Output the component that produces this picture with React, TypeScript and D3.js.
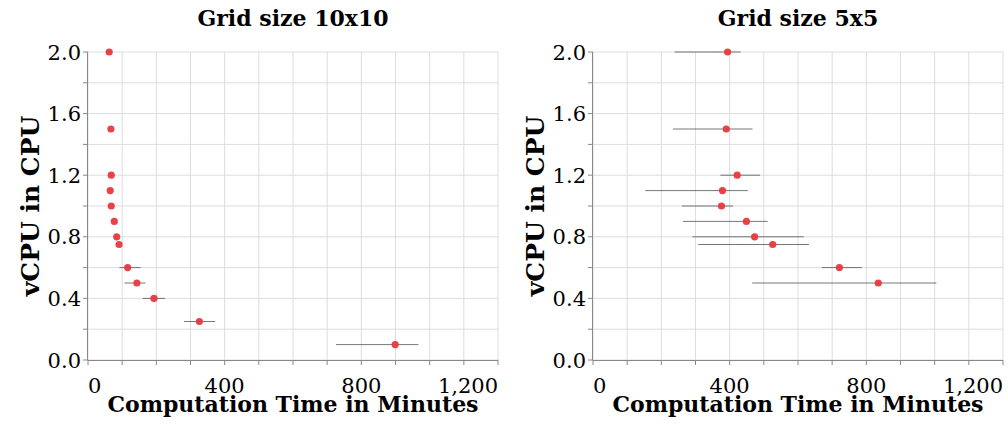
import React from "react";
import * as d3 from "d3";

// vCPU levels and measured times (minutes), with error-bar extents
const vcpu10 = [2.0, 1.5, 1.2, 1.1, 1.0, 0.9, 0.8, 0.75, 0.6, 0.5, 0.4, 0.25, 0.1];
const time10 = [62, 67, 68, 65, 68, 77, 84, 91, 116, 143, 193, 326, 899];
const lo10 = [58, 63, 64, 61, 64, 73, 80, 87, 92, 107, 160, 281, 726];
const hi10 = [66, 71, 72, 69, 72, 81, 88, 95, 154, 168, 225, 372, 967];

const vcpu5 = [2.0, 1.5, 1.2, 1.1, 1.0, 0.9, 0.8, 0.75, 0.6, 0.5];
const time5 = [394, 390, 422, 379, 376, 449, 473, 526, 721, 835];
const lo5 = [239, 234, 373, 153, 260, 263, 291, 308, 670, 466];
const hi5 = [432, 467, 489, 453, 410, 511, 617, 632, 787, 1005];

const xLabelTicks = [0, 400, 800, 1200];
const yLabelTicks = [0, 0.4, 0.8, 1.2, 1.6, 2.0];

const FONT = "'DejaVu Serif', serif";

function Panel({ left, title, vcpu, time, lo, hi }) {
  const width = 410;
  const top = 52;
  const height = 308;
  const x = d3.scaleLinear().domain([0, 1200]).range([0, width]);
  const y = d3.scaleLinear().domain([0, 2]).range([height, 0]);
  const xGrid = d3.range(0, 1201, 100);
  const yGrid = d3.range(0, 2.01, 0.2);
  const fmt = d3.format(",");

  return (
    <g transform={`translate(${left},${top})`}>
      <text x={width / 2} y={-26} textAnchor="middle" fontFamily={FONT}
        fontWeight="bold" fontSize={22}>{title}</text>
      {xGrid.map((v) => (
        <line key={"gx" + v} x1={x(v)} x2={x(v)} y1={0} y2={height} stroke="#ddd" />
      ))}
      {yGrid.map((v) => (
        <line key={"gy" + v} x1={0} x2={width} y1={y(v)} y2={y(v)} stroke="#ddd" />
      ))}
      {/* axes */}
      <line x1={0} x2={width} y1={height + 0.5} y2={height + 0.5} stroke="#888" />
      <line x1={-0.5} x2={-0.5} y1={0} y2={height} stroke="#888" />
      {xGrid.map((v) => (
        <line key={"tx" + v} x1={x(v)} x2={x(v)} y1={height} y2={height + 5} stroke="#888" />
      ))}
      {yGrid.map((v) => (
        <line key={"ty" + v} x1={-5} x2={0} y1={y(v)} y2={y(v)} stroke="#888" />
      ))}
      {xLabelTicks.map((v, i) => (
        <text key={"lx" + v} x={x(v)} y={height + 33} fontFamily={FONT} fontSize={21}
          textAnchor={i === 0 ? "start" : i === xLabelTicks.length - 1 ? "end" : "middle"}>
          {fmt(v)}
        </text>
      ))}
      {yLabelTicks.map((v) => (
        <text key={"ly" + v} x={-7} y={y(v)} dy="0.36em" textAnchor="end"
          fontFamily={FONT} fontSize={21}>{v.toFixed(1)}</text>
      ))}
      <text x={width / 2} y={height + 52} textAnchor="middle" fontFamily={FONT}
        fontWeight="bold" fontSize={22}>Computation Time in Minutes</text>
      <text transform={`translate(${-49},${height / 2}) rotate(-90)`} textAnchor="middle"
        fontFamily={FONT} fontWeight="bold" fontSize={25}>vCPU in CPU</text>
      {/* error bars */}
      {vcpu.map((v, i) => (
        <line key={"e" + i} x1={x(lo[i])} x2={x(hi[i])} y1={y(v)} y2={y(v)}
          stroke="#555" strokeOpacity={0.8} strokeWidth={1} />
      ))}
      {vcpu.map((v, i) => (
        <circle key={"p" + i} cx={x(time[i])} cy={y(v)} r={3.6} fill="#e8383d" fillOpacity={0.95} />
      ))}
    </g>
  );
}

export default function App() {
  return (
    <svg width={1008} height={425} style={{ position: "absolute", left: 0, top: 0, background: "#fff" }}>
      <Panel left={88} title="Grid size 10x10" vcpu={vcpu10} time={time10} lo={lo10} hi={hi10} />
      <Panel left={593} title="Grid size 5x5" vcpu={vcpu5} time={time5} lo={lo5} hi={hi5} />
    </svg>
  );
}
